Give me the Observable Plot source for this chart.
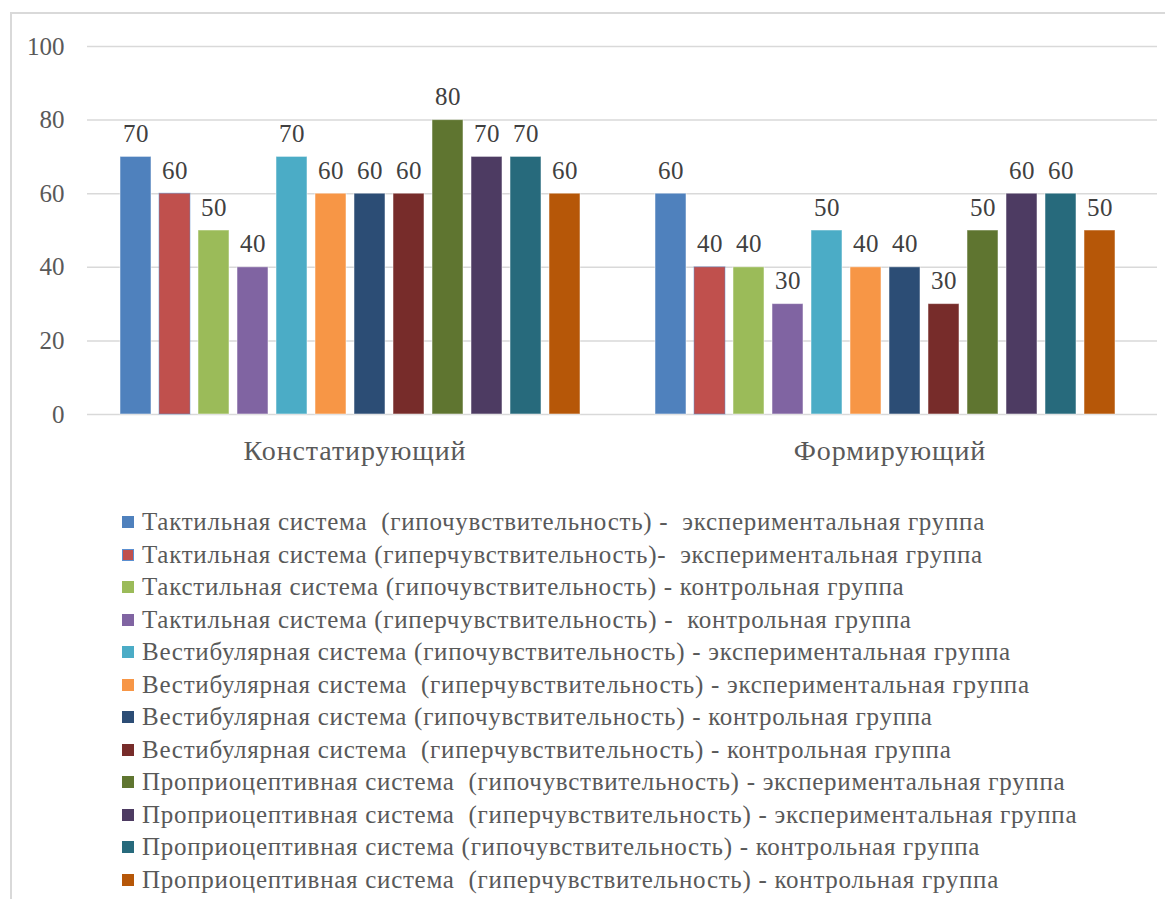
<!DOCTYPE html>
<html>
<head>
<meta charset="utf-8">
<script src="https://cdn.jsdelivr.net/npm/d3@7"></script>
<script src="https://cdn.jsdelivr.net/npm/@observablehq/plot@0.6"></script>
<style>
  html, body { margin: 0; padding: 0; background: #fff; }
  #wrap { position: relative; width: 1165px; height: 899px; overflow: hidden; font-family: "Liberation Serif", "Times New Roman", serif; color: #595959; }
  #frame { position: absolute; left: 10px; top: 12px; width: 1200px; height: 1000px; border-left: 2px solid #d9d9d9; border-top: 2px solid #d9d9d9; box-sizing: border-box; }
  #chart { position: absolute; left: 0; top: 0; }
  #chart svg g[aria-label="fx-axis tick label"] text { letter-spacing: 0.9px; }
  #chart svg g[aria-label="text"] text { letter-spacing: 0.6px; }
  #legend { position: absolute; left: 122px; top: 506px; font-size: 25px; letter-spacing: 0.72px; line-height: 32.5px; white-space: pre; }
  .row { display: flex; align-items: center; height: 32.5px; }
  .sw { width: 12px; height: 12px; margin-right: 8px; box-sizing: border-box; flex: none; }
</style>
</head>
<body>
<div id="wrap">
  <div id="frame"></div>
  <div id="chart"></div>
  <div id="legend"></div>
</div>
<script>
const stages = ["Констатирующий", "Формирующий"];
const seriesNames = [
  "Тактильная система  (гипочувствительность) -  экспериментальная группа",
  "Тактильная система (гиперчувствительность)-  экспериментальная группа",
  "Такстильная система (гипочувствительность) - контрольная группа",
  "Тактильная система (гиперчувствительность) -  контрольная группа",
  "Вестибулярная система (гипочувствительность) - экспериментальная группа",
  "Вестибулярная система  (гиперчувствительность) - экспериментальная группа",
  "Вестибулярная система (гипочувствительность) - контрольная группа",
  "Вестибулярная система  (гиперчувствительность) - контрольная группа",
  "Проприоцептивная система  (гипочувствительность) - экспериментальная группа",
  "Проприоцептивная система  (гиперчувствительность) - экспериментальная группа",
  "Проприоцептивная система (гипочувствительность) - контрольная группа",
  "Проприоцептивная система  (гиперчувствительность) - контрольная группа"
];
const seriesColors = ["#4F81BD", "#C0504D", "#9BBB59", "#8064A2", "#4BACC6", "#F79646",
                      "#2C4D75", "#772C2A", "#5F7530", "#4D3B62", "#276A7C", "#B65708"];
const valuesKonstatiruyushchiy = [70, 60, 50, 40, 70, 60, 60, 60, 80, 70, 70, 60];
const valuesFormiruyushchiy   = [60, 40, 40, 30, 50, 40, 40, 30, 50, 60, 60, 50];
const yTicks = [0, 20, 40, 60, 80, 100];

const stageValues = [valuesKonstatiruyushchiy, valuesFormiruyushchiy];
const data = stages.flatMap((stage, si) =>
  seriesNames.map((name, i) => ({stage, series: name, value: stageValues[si][i]}))
);

const serif = "'Liberation Serif', 'Times New Roman', serif";
const chart = Plot.plot({
  width: 1165,
  height: 480,
  marginLeft: 86,
  marginRight: 8,
  marginTop: 46,
  marginBottom: 66,
  style: {fontFamily: serif, color: "#595959", background: "transparent"},
  fx: {domain: stages, padding: 0, label: null},
  x: {domain: seriesNames, paddingInner: 0.217, paddingOuter: 0.87, align: 0.44, axis: null},
  y: {domain: [0, 100], label: null},
  color: {domain: seriesNames, range: seriesColors},
  marks: [
    Plot.gridY(yTicks, {stroke: "#d9d9d9", strokeOpacity: 1, strokeWidth: 1.5}),
    Plot.axisY(yTicks, {tickSize: 0, tickPadding: 23, fontSize: 25, label: null}),
    Plot.axisFx({anchor: "bottom", tickSize: 0, tickPadding: 26, fontSize: 28, label: null}),
    Plot.barY(data, {fx: "stage", x: "series", y: "value", fill: "series",
      stroke: d => d.series === seriesNames[1] ? "#5b8fd0" : "#ffffff", strokeOpacity: 0.5, strokeWidth: 1}),
    Plot.text(data, {fx: "stage", x: "series", y: "value", text: d => String(d.value),
      lineAnchor: "bottom", dy: -15, fontSize: 25, fill: "#404040"})
  ]
});
document.getElementById("chart").appendChild(chart);

const legend = document.getElementById("legend");
seriesNames.forEach((name, i) => {
  const row = document.createElement("div");
  row.className = "row";
  const sw = document.createElement("span");
  sw.className = "sw";
  sw.style.background = seriesColors[i];
  if (i === 1) sw.style.border = "1.5px solid #5b8fd0";
  const t = document.createElement("span");
  t.textContent = name;
  row.appendChild(sw);
  row.appendChild(t);
  legend.appendChild(row);
});
</script>
</body>
</html>
